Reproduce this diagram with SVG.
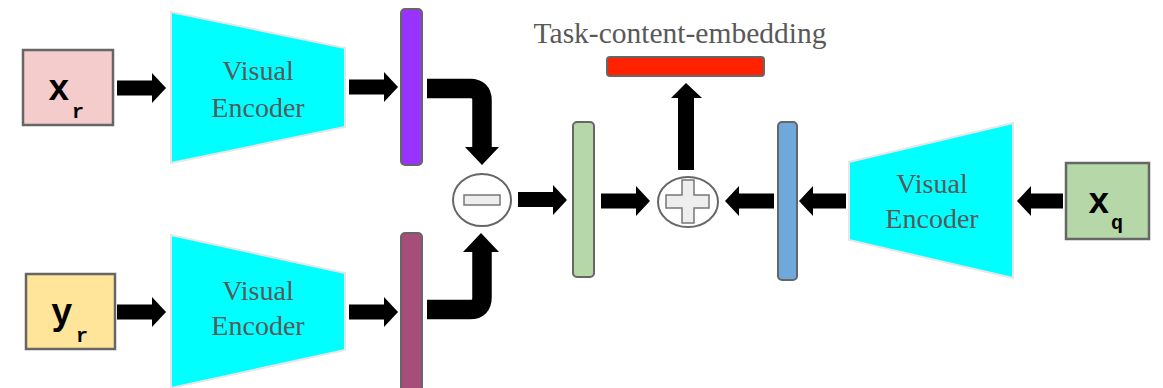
<svg xmlns="http://www.w3.org/2000/svg" width="1163" height="388" viewBox="0 0 1163 388">
<style>
.enc{fill:#00ffff;stroke:#e6e6e6;stroke-width:2}
.lbl{font-family:"Liberation Serif",serif;font-size:28px;fill:#595959;text-anchor:middle}
.box{stroke:#666;stroke-width:2.5}
.bar{stroke:#666;stroke-width:2}
.var{font-family:"Liberation Mono",monospace;font-weight:bold;fill:#000}
.big{font-size:36px}
.sub{font-size:20px}
.arr{fill:#000}
.curve{fill:none;stroke:#000;stroke-width:19.5}
.op{fill:#fff;stroke:#666;stroke-width:2}
.opin{fill:#eeeeee;stroke:#777;stroke-width:1.5}
</style>
<rect width="1163" height="388" fill="#fff"/>

<g id="xr">
<rect class="box" x="23" y="50" width="90" height="75" fill="#f4cccc"/>
<text class="var big" x="48" y="100">x</text>
<text class="var sub" x="72" y="118">r</text>
</g>
<g id="yr">
<rect class="box" x="26" y="274" width="89" height="75" fill="#ffe599"/>
<text class="var big" x="51" y="324">y</text>
<text class="var sub" x="76" y="342">r</text>
</g>
<g id="xq">
<rect class="box" x="1066" y="163" width="83" height="76" fill="#b6d7a8"/>
<text class="var big" x="1088" y="213">x</text>
<text class="var sub" x="1111" y="229">q</text>
</g>

<g id="enc1">
<polygon class="enc" points="171,12 345,48 345,127 171,163"/>
<text class="lbl" x="258" y="80">Visual</text>
<text class="lbl" x="258" y="117">Encoder</text>
</g>
<g id="enc2">
<polygon class="enc" points="171,235 345,273 345,350 171,388"/>
<text class="lbl" x="258" y="300">Visual</text>
<text class="lbl" x="258" y="335">Encoder</text>
</g>
<g id="enc3">
<polygon class="enc" points="849,162 1013,123 1013,278 849,240"/>
<text class="lbl" x="932" y="193">Visual</text>
<text class="lbl" x="932" y="228">Encoder</text>
</g>

<g id="featX">
<rect class="bar" x="401" y="9" width="21" height="156" rx="4" fill="#9933ff"/>
</g>
<g id="featY">
<rect class="bar" x="401" y="233" width="21" height="158" rx="4" fill="#a64d79"/>
</g>
<g id="featDiff">
<rect class="bar" x="573" y="122" width="21" height="155" rx="4" fill="#b6d7a8"/>
</g>
<g id="featQ">
<rect class="bar" x="778" y="122" width="19" height="158" rx="4" fill="#6fa8dc"/>
</g>
<g id="taskEmb">
<rect class="bar" x="607" y="57" width="157" height="19" rx="3" fill="#ff2200"/>
<text class="lbl" x="680" y="43" style="font-size:29.5px">Task-content-embedding</text>
</g>

<g id="minus">
<ellipse class="op" cx="482" cy="200" rx="29" ry="26"/>
<rect class="opin" x="464" y="195" width="36" height="10"/>
</g>
<g id="plus">
<ellipse class="op" cx="688" cy="202" rx="30" ry="25"/>
<polygon class="opin" points="682,180 694,180 694,195 709,195 709,208 694,208 694,223 682,223 682,208 666,208 666,195 682,195"/>
</g>

<g id="connectors">
<polygon class="arr" points="117,80.5 152,80.5 152,73 166,88 152,103 152,95.5 117,95.5"/>
<polygon class="arr" points="349,79.5 384,79.5 384,72 398,87 384,102 384,94.5 349,94.5"/>
<polygon class="arr" points="117,304.5 152,304.5 152,297 166,312 152,327 152,319.5 117,319.5"/>
<polygon class="arr" points="349,304.5 384,304.5 384,297 398,312 384,327 384,319.5 349,319.5"/>
<polygon class="arr" points="518,192 553,192 553,185 567,200 553,215 553,207 518,207"/>
<polygon class="arr" points="601,193.5 636,193.5 636,186 650,201 636,216 636,208.5 601,208.5"/>
<polygon class="arr" points="774,193.5 739,193.5 739,186 725,201 739,216 739,208.5 774,208.5"/>
<polygon class="arr" points="846,193.5 813,193.5 813,186 799,201 813,216 813,208.5 846,208.5"/>
<polygon class="arr" points="1063,193.5 1031,193.5 1031,186 1017,201 1031,216 1031,208.5 1063,208.5"/>
<polygon class="arr" points="678,170 678,98 671,98 686,83 702,98 694,98 694,170"/>
<path class="curve" d="M427,88.5 H470 Q482,88.5 482,100.5 V148"/>
<polygon class="arr" points="465,147 499,147 482,165"/>
<path class="curve" d="M427,309.5 H470 Q482,309.5 482,297.5 V251"/>
<polygon class="arr" points="463,252 499,252 481,233"/>
</g>
</svg>
